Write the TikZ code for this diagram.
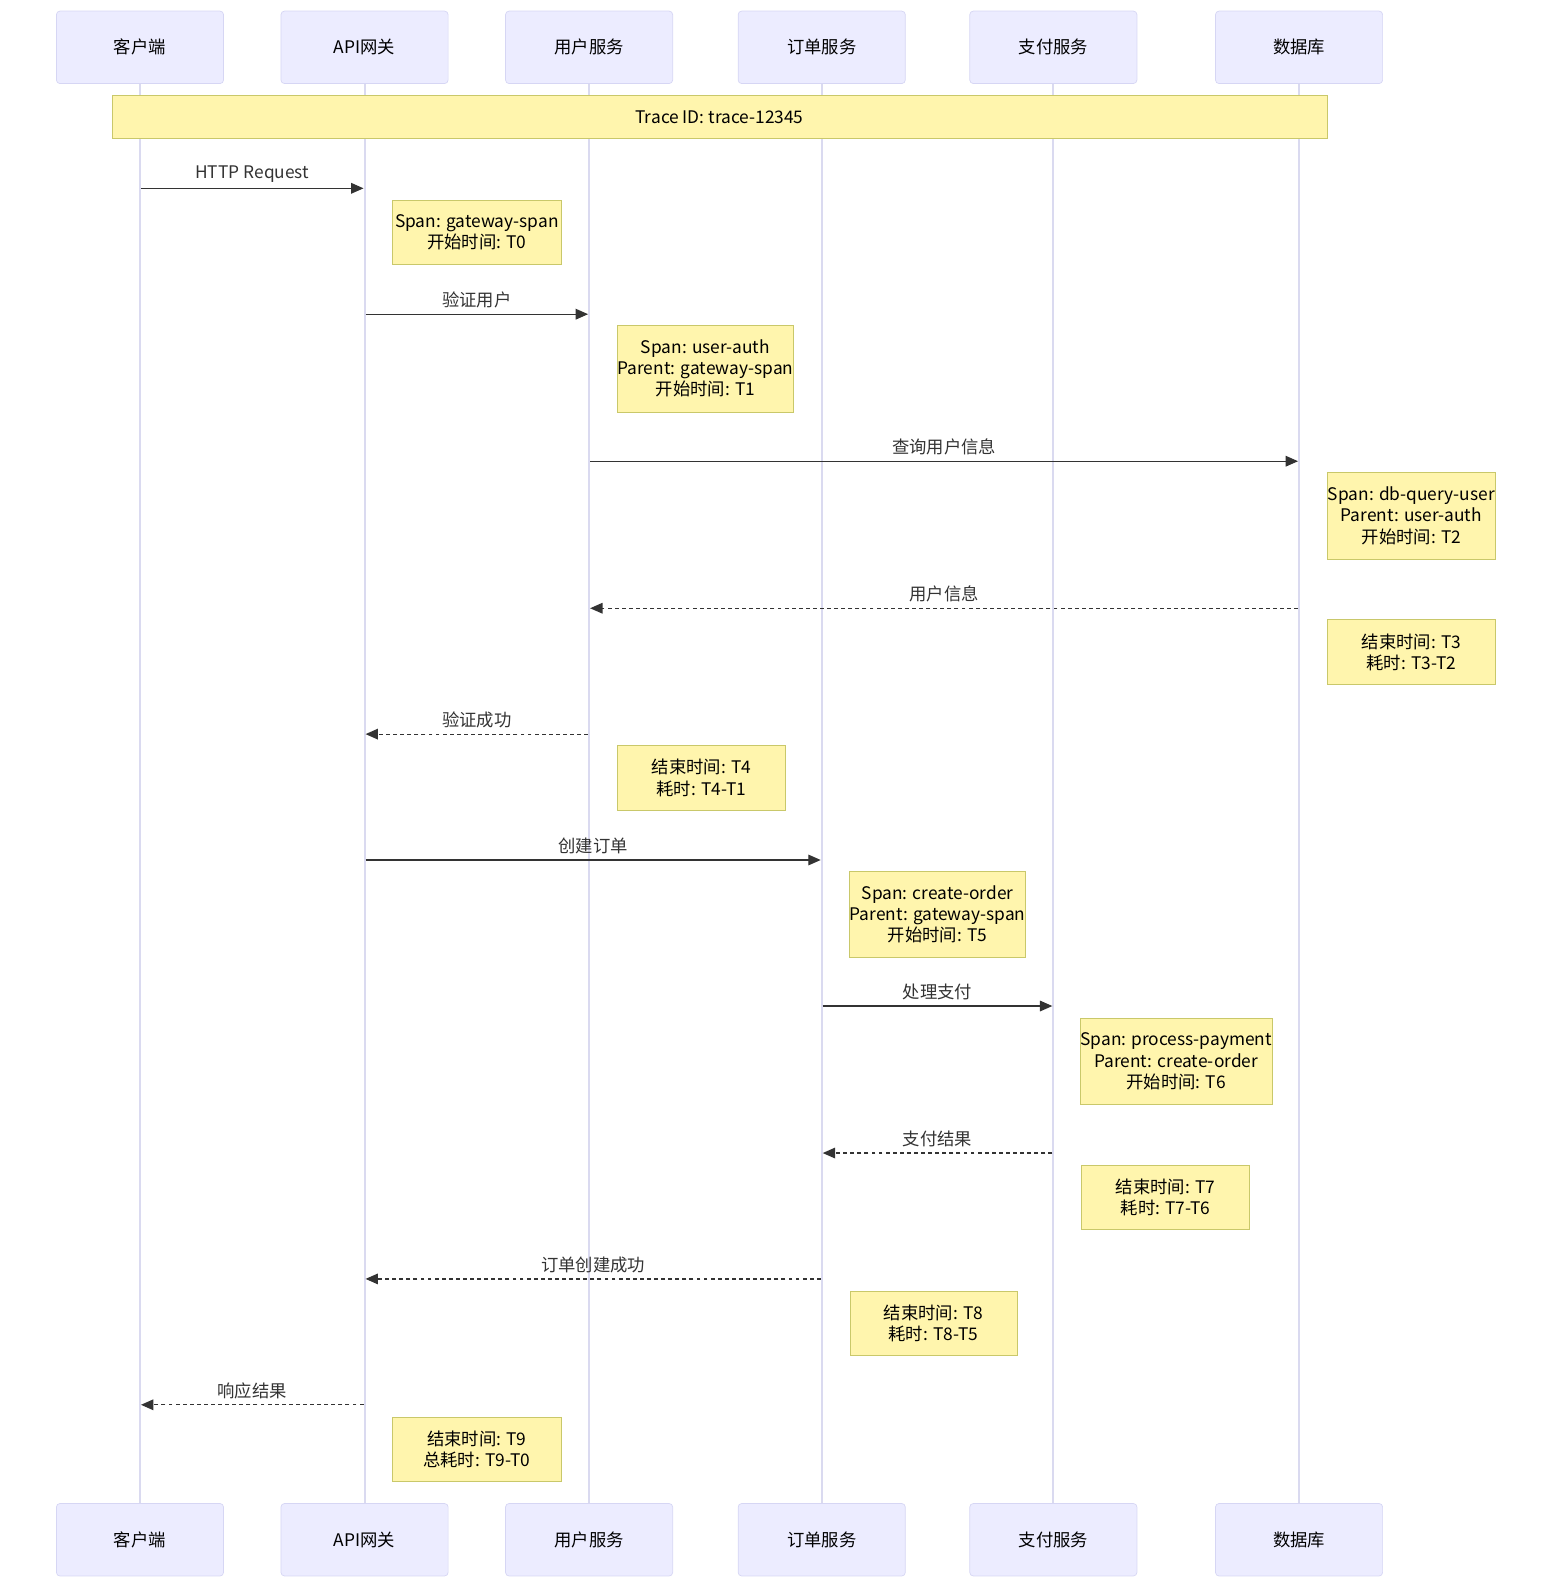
\documentclass[tikz,border=0pt]{standalone}
\usepackage{fontspec}
\setmainfont{Noto Sans CJK SC}
\usetikzlibrary{arrows.meta}
\definecolor{actfill}{HTML}{ECECFF}
\definecolor{actline}{HTML}{D6D6F4}
\definecolor{lifeline}{HTML}{DADAF0}
\definecolor{notefill}{HTML}{FFF5AD}
\definecolor{noteline}{HTML}{C9C86A}
\definecolor{ink}{HTML}{333333}
\begin{document}
\begin{tikzpicture}[x=0.02cm,y=-0.02cm,
    actor/.style={draw=actline,fill=actfill,rounded corners=2pt,minimum width=3.32cm,minimum height=1.44cm,font=\fontsize{9.8}{11}\selectfont},
    note/.style={draw=noteline,fill=notefill,inner sep=0pt,align=center,font=\fontsize{9.8}{12}\selectfont},
    msg/.style={draw=ink,line width=0.7pt,-{Triangle[length=7pt,width=6pt]}},
    reply/.style={msg,dash pattern=on 2.2pt off 1.8pt},
    lbl/.style={above=2pt,inner sep=1pt,text=ink,font=\fontsize{9.8}{11}\selectfont}]
        \useasboundingbox (0,0) rectangle (1557,1568);
        % actors, top and bottom
        \node[actor] (C) at (139,47) {客户端};
        \node[actor] (G) at (362,47) {API网关};
        \node[actor] (U) at (585,47) {用户服务};
        \node[actor] (O) at (816,47) {订单服务};
        \node[actor] (P) at (1046,47) {支付服务};
        \node[actor] (D) at (1290,47) {数据库};
        \node[actor] (Cb) at (139,1529) {客户端};
        \node[actor] (Gb) at (362,1529) {API网关};
        \node[actor] (Ub) at (585,1529) {用户服务};
        \node[actor] (Ob) at (816,1529) {订单服务};
        \node[actor] (Pb) at (1046,1529) {支付服务};
        \node[actor] (Db) at (1290,1529) {数据库};
        % lifelines
        \foreach \a in {C,G,U,O,P,D}
          \draw[lifeline,line width=1.1pt] (\a.south) -- (\a b.north);
        \node[note,minimum width=24.14cm,minimum height=0.84cm] (trace) at (714.5,116) {Trace ID: trace-12345};
        % messages
        \coordinate (m1s) at (140,187);  \coordinate (m1e) at (361,187);
        \coordinate (m2s) at (363,312);  \coordinate (m2e) at (584,312);
        \coordinate (m3s) at (586,458);  \coordinate (m3e) at (1289,458);
        \coordinate (m4s) at (1289,604); \coordinate (m4e) at (586,604);
        \coordinate (m5s) at (584,729);  \coordinate (m5e) at (363,729);
        \coordinate (m6s) at (363,854);  \coordinate (m6e) at (815,854);
        \coordinate (m7s) at (817,999);  \coordinate (m7e) at (1045,999);
        \coordinate (m8s) at (1045,1145); \coordinate (m8e) at (817,1145);
        \coordinate (m9s) at (815,1270); \coordinate (m9e) at (363,1270);
        \coordinate (m10s) at (361,1395); \coordinate (m10e) at (140,1395);
        \draw[msg] (m1s) -- node[lbl] {HTTP Request} (m1e);
        \node[note,minimum width=3.34cm,minimum height=1.28cm] (n1) at (473.5,231) {Span: gateway-span\\开始时间: T0};
        \draw[msg] (m2s) -- node[lbl] {验证用户} (m2e);
        \node[note,minimum width=3.5cm,minimum height=1.72cm] (n2) at (700.5,366) {Span: user-auth\\Parent: gateway-span\\开始时间: T1};
        \draw[msg] (m3s) -- node[lbl] {查询用户信息} (m3e);
        \node[note,minimum width=3.34cm,minimum height=1.72cm] (n3) at (1401.5,512) {Span: db-query-user\\Parent: user-auth\\开始时间: T2};
        \draw[reply] (m4s) -- node[lbl] {用户信息} (m4e);
        \node[note,minimum width=3.34cm,minimum height=1.3cm] (n4) at (1401.5,647.5) {结束时间: T3\\耗时: T3-T2};
        \draw[reply] (m5s) -- node[lbl] {验证成功} (m5e);
        \node[note,minimum width=3.34cm,minimum height=1.3cm] (n5) at (696.5,772.5) {结束时间: T4\\耗时: T4-T1};
        \draw[msg] (m6s) -- node[lbl] {创建订单} (m6e);
        \node[note,minimum width=3.48cm,minimum height=1.72cm] (n6) at (931,908) {Span: create-order\\Parent: gateway-span\\开始时间: T5};
        \draw[msg] (m7s) -- node[lbl] {处理支付} (m7e);
        \node[note,minimum width=3.76cm,minimum height=1.72cm] (n7) at (1168,1054) {Span: process-payment\\Parent: create-order\\开始时间: T6};
        \draw[reply] (m8s) -- node[lbl] {支付结果} (m8e);
        \node[note,minimum width=3.34cm,minimum height=1.28cm] (n8) at (1157.5,1189) {结束时间: T7\\耗时: T7-T6};
        \draw[reply] (m9s) -- node[lbl] {订单创建成功} (m9e);
        \node[note,minimum width=3.32cm,minimum height=1.28cm] (n9) at (927,1314) {结束时间: T8\\耗时: T8-T5};
        \draw[reply] (m10s) -- node[lbl] {响应结果} (m10e);
        \node[note,minimum width=3.34cm,minimum height=1.28cm] (n10) at (473.5,1439) {结束时间: T9\\总耗时: T9-T0};
\end{tikzpicture}
\end{document}
